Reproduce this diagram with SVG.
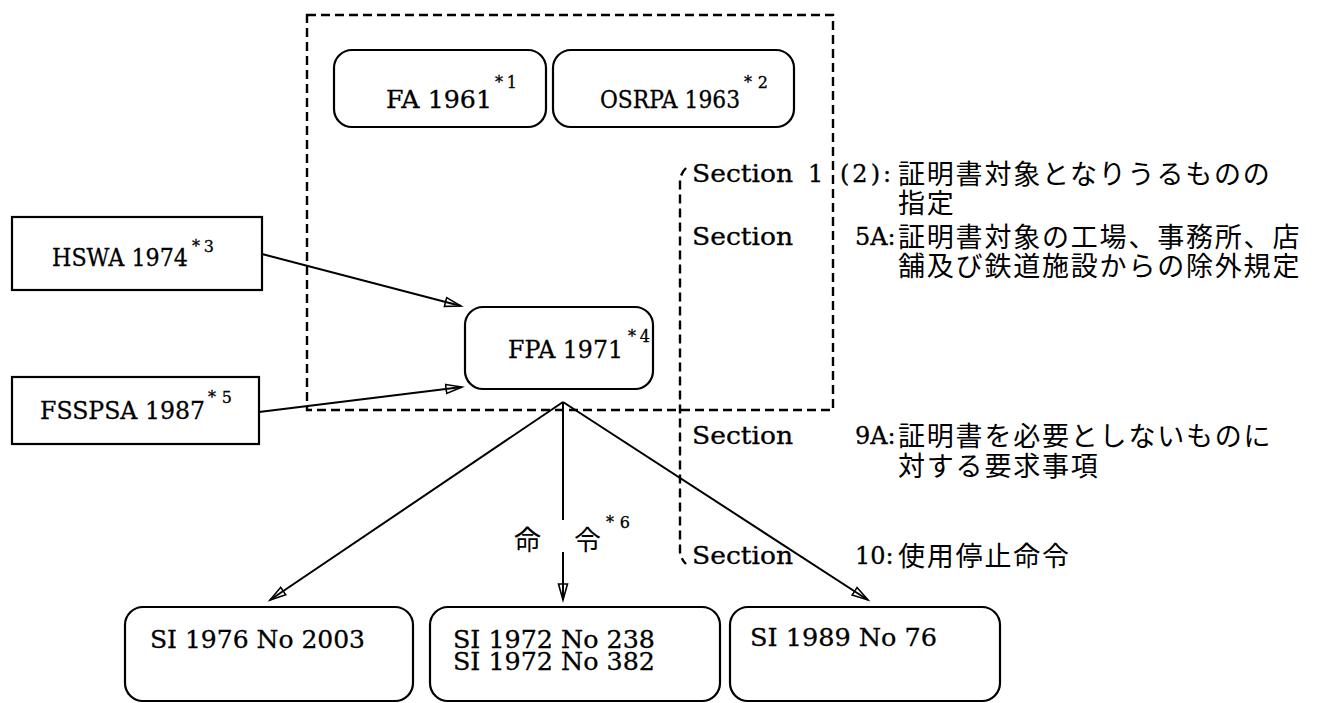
<svg xmlns="http://www.w3.org/2000/svg" width="1320" height="703" viewBox="0 0 1320 703">
<style>
.bg{fill:#fff}
.box{fill:none;stroke:#000;stroke-width:2.2}
.dash{fill:none;stroke:#000;stroke-width:2.4;stroke-dasharray:9 5}
.ln{fill:none;stroke:#000;stroke-width:2}
.t{font-family:"DejaVu Serif","Liberation Serif",serif;font-size:24px;fill:#000;stroke:#000;stroke-width:0.3}
.s{font-family:"DejaVu Serif","Liberation Serif",serif;font-size:16px;fill:#000;stroke:#000;stroke-width:0.3}
.j{font-family:"Noto Sans CJK JP","Noto Sans CJK SC",sans-serif;font-size:27px;letter-spacing:1.8px;fill:#000}
.lat{font-family:"DejaVu Serif","Liberation Serif",serif;font-size:24px;letter-spacing:3px;stroke:#000;stroke-width:0.3}
</style>
<defs>
<marker id="ah" markerWidth="20" markerHeight="12" refX="17" refY="6" orient="auto" markerUnits="userSpaceOnUse">
<path d="M1,1.5 L17,6 L1,10.5 Z" fill="none" stroke="#000" stroke-width="1.6"/>
</marker>
</defs>
<rect class="bg" x="0" y="0" width="1320" height="703"/>

<g id="frame">
<rect class="dash" x="307" y="15" width="526" height="395"/>
<path class="dash" d="M686,168 Q681,173 680,180 L680,552 Q681,559 686,564"/>
</g>

<g id="fa">
<rect class="box" x="334" y="50" width="212" height="77" rx="18"/>
<text class="t" x="386" y="108" textLength="106" lengthAdjust="spacingAndGlyphs">FA 1961</text>
<text class="s" x="495" y="88" textLength="22" lengthAdjust="spacing">*1</text>
</g>
<g id="osrpa">
<rect class="box" x="553" y="50" width="241" height="77" rx="18"/>
<text class="t" x="600" y="108" textLength="140" lengthAdjust="spacingAndGlyphs">OSRPA 1963</text>
<text class="s" x="744" y="88" textLength="24" lengthAdjust="spacing">*2</text>
</g>
<g id="hswa">
<rect class="box" x="12" y="217" width="250" height="73"/>
<text class="t" x="52" y="266" textLength="136" lengthAdjust="spacingAndGlyphs">HSWA 1974</text>
<text class="s" x="192" y="252" textLength="22" lengthAdjust="spacing">*3</text>
</g>
<g id="fsspsa">
<rect class="box" x="12" y="377" width="247" height="67"/>
<text class="t" x="40" y="419" textLength="165" lengthAdjust="spacingAndGlyphs">FSSPSA 1987</text>
<text class="s" x="208" y="403" textLength="24" lengthAdjust="spacing">*5</text>
</g>
<g id="fpa">
<rect class="box" x="465" y="307" width="188" height="82" rx="18"/>
<text class="t" x="508" y="358" textLength="115" lengthAdjust="spacingAndGlyphs">FPA 1971</text>
<text class="s" x="628" y="342" textLength="22" lengthAdjust="spacing">*4</text>
</g>
<g id="si1976">
<rect class="box" x="125" y="607" width="288" height="94" rx="18"/>
<text class="t" x="150" y="648" textLength="215" lengthAdjust="spacingAndGlyphs">SI 1976 No 2003</text>
</g>
<g id="si1972">
<rect class="box" x="430" y="607" width="290" height="94" rx="18"/>
<text class="t" x="453" y="648" textLength="202" lengthAdjust="spacingAndGlyphs">SI 1972 No 238</text>
<text class="t" x="453" y="670" textLength="202" lengthAdjust="spacingAndGlyphs">SI 1972 No 382</text>
</g>
<g id="si1989">
<rect class="box" x="730" y="607" width="270" height="94" rx="18"/>
<text class="t" x="750" y="646" textLength="187" lengthAdjust="spacingAndGlyphs">SI 1989 No 76</text>
</g>

<g id="connectors">
<line class="ln" x1="262" y1="254" x2="461" y2="306" marker-end="url(#ah)"/>
<line class="ln" x1="259" y1="412" x2="462" y2="387" marker-end="url(#ah)"/>
<line class="ln" x1="563" y1="402" x2="270" y2="600" marker-end="url(#ah)"/>
<line class="ln" x1="563" y1="402" x2="563" y2="520"/>
<line class="ln" x1="563" y1="552" x2="563" y2="600" marker-end="url(#ah)"/>
<line class="ln" x1="563" y1="402" x2="868" y2="600" marker-end="url(#ah)"/>
</g>

<g id="order-label">
<text class="j" x="514" y="550" style="letter-spacing:0">命<tspan x="574">令</tspan></text>
<text class="s" x="606" y="528" textLength="24" lengthAdjust="spacing">*6</text>
</g>

<g id="sections">
<text class="t" x="692" y="182" textLength="101" lengthAdjust="spacingAndGlyphs">Section</text>
<text class="t" x="808" y="182">1</text>
<text class="j" x="840" y="184"><tspan class="lat" y="182">(2):</tspan><tspan x="898" y="184">証明書対象となりうるものの</tspan><tspan x="898" y="213">指定</tspan></text>

<text class="t" x="692" y="245" textLength="101" lengthAdjust="spacingAndGlyphs">Section</text>
<text class="j" x="855" y="247"><tspan class="lat" y="245" style="letter-spacing:0">5A:</tspan><tspan x="898" y="247">証明書対象の工場、事務所、店</tspan><tspan x="898" y="276">舗及び鉄道施設からの除外規定</tspan></text>

<text class="t" x="692" y="444" textLength="101" lengthAdjust="spacingAndGlyphs">Section</text>
<text class="j" x="855" y="446"><tspan class="lat" y="444" style="letter-spacing:0">9A:</tspan><tspan x="898" y="446">証明書を必要としないものに</tspan><tspan x="898" y="476">対する要求事項</tspan></text>

<text class="t" x="692" y="564" textLength="101" lengthAdjust="spacingAndGlyphs">Section</text>
<text class="j" x="855" y="566"><tspan class="lat" y="564" style="letter-spacing:0">10:</tspan><tspan x="898" y="566">使用停止命令</tspan></text>
</g>
</svg>
